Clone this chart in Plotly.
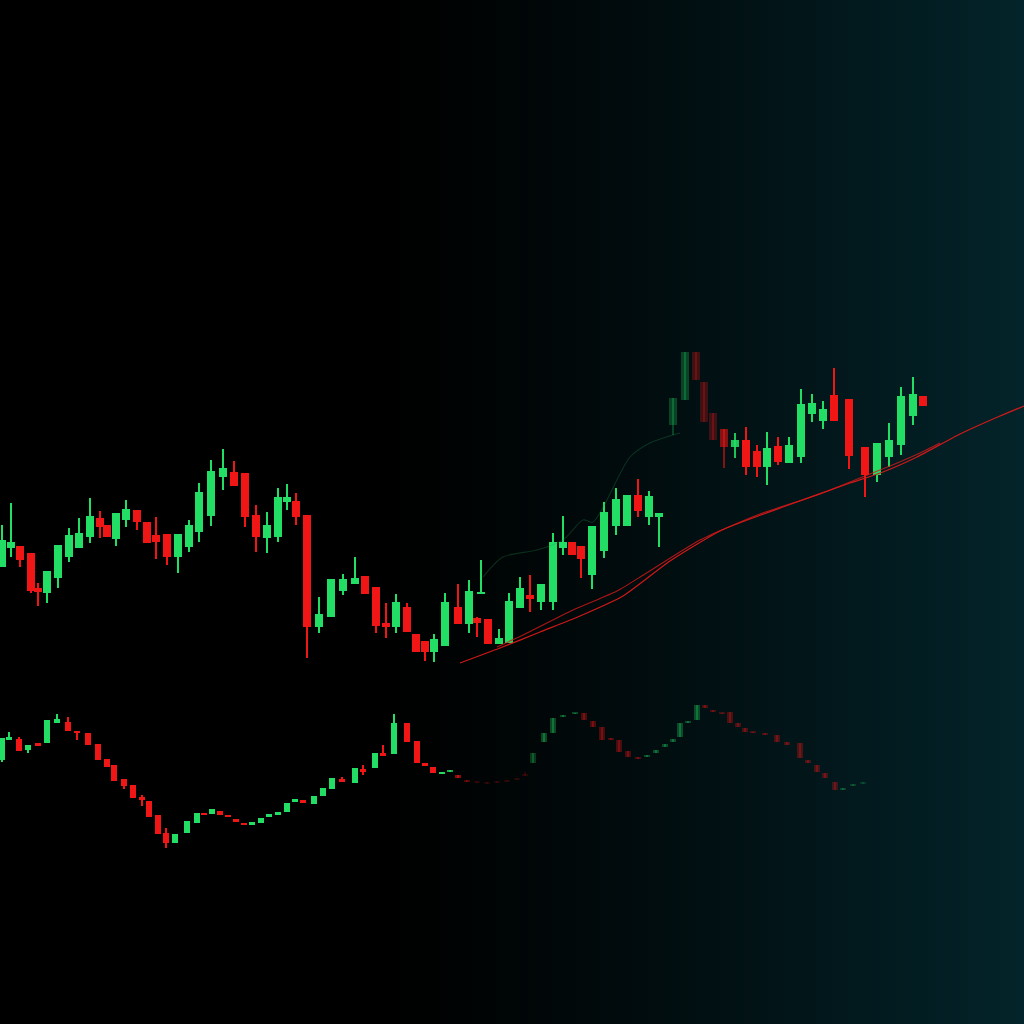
import numpy as np
import plotly.graph_objects as go

# ---------------- data ----------------
# upper price series: position, open, high, low, close
up_x = [2, 11, 20, 31, 38, 47, 58, 69, 79, 90, 100, 107, 116, 126, 137, 147, 156, 167, 178, 189,
        199, 211, 223, 234, 245, 256, 267, 278, 287, 296, 307, 319, 331, 343, 355, 365, 376, 386, 396, 407,
        416, 425, 434, 445, 458, 469, 477, 481, 488, 499, 509, 520, 530, 541, 553, 563, 572, 581, 592, 604,
        616, 627, 638, 649, 659, 673, 685, 696, 704, 713, 724, 735, 746, 757, 767, 778, 789, 801, 812, 823,
        834, 849, 865, 877, 889, 901, 913, 923]
up_open = [457, 476, 478, 471, 436, 431, 446, 467, 476, 487, 506, 499, 485, 504, 514, 502, 489, 490, 467, 477,
           492, 508, 547, 552, 551, 509, 486, 487, 522, 523, 509, 397, 407, 433, 440, 448, 437, 401, 397, 417,
           390, 383, 372, 378, 417, 400, 406, 430, 405, 380, 381, 416, 429, 422, 422, 476, 482, 478, 449, 473,
           498, 498, 529, 507, 507, 599, 624, 672, 642, 611, 595, 577, 584, 573, 557, 578, 561, 567, 610, 603,
           629, 625, 577, 549, 567, 579, 608, 628]
up_high = [499, 521, 478, 471, 441, 453, 479, 496, 506, 526, 513, 499, 511, 524, 514, 502, 507, 490, 490, 504,
           541, 564, 575, 563, 551, 519, 512, 536, 540, 531, 509, 427, 445, 450, 467, 448, 437, 421, 430, 421,
           390, 383, 390, 431, 440, 444, 407, 464, 405, 395, 431, 447, 449, 440, 491, 508, 482, 478, 498, 522,
           536, 529, 545, 533, 511, 626, 672, 672, 642, 611, 595, 591, 597, 579, 592, 587, 587, 635, 630, 623,
           656, 625, 577, 581, 601, 637, 647, 628]
up_low = [457, 467, 457, 431, 418, 421, 436, 462, 476, 481, 486, 487, 478, 497, 494, 481, 465, 459, 451, 472,
          482, 498, 534, 538, 497, 472, 471, 482, 514, 499, 366, 391, 407, 429, 440, 430, 391, 386, 391, 392,
          372, 363, 362, 378, 400, 391, 387, 430, 380, 380, 381, 416, 412, 414, 414, 469, 469, 446, 435, 466,
          489, 498, 507, 499, 477, 589, 624, 644, 602, 584, 556, 566, 549, 547, 539, 559, 561, 561, 602, 595,
          603, 555, 527, 542, 557, 569, 599, 618]
up_close = [484, 482, 464, 433, 432, 453, 479, 489, 491, 508, 497, 487, 511, 515, 502, 481, 482, 467, 490, 499,
            532, 553, 556, 538, 507, 487, 499, 527, 527, 507, 397, 410, 445, 445, 446, 430, 398, 397, 422, 392,
            372, 372, 385, 422, 400, 433, 401, 432, 380, 386, 423, 436, 425, 440, 482, 482, 469, 465, 498, 512,
            525, 529, 513, 528, 511, 626, 672, 644, 602, 584, 577, 584, 557, 557, 576, 562, 579, 620, 621, 615,
            603, 568, 549, 581, 584, 628, 630, 618]

# lower price series: position, open, high, low, close
lo_x = [2, 9, 19, 28, 38, 47, 57, 68, 77, 88, 98, 107, 114, 124, 133, 142, 149, 158, 166, 175,
        187, 197, 204, 212, 220, 228, 236, 244, 252, 261, 269, 278, 287, 295, 303, 314, 323, 332, 342, 355,
        363, 375, 383, 394, 407, 417, 425, 433, 442, 450, 458, 467, 477, 487, 497, 507, 517, 525, 533, 544,
        553, 563, 575, 584, 593, 602, 611, 619, 628, 638, 647, 656, 665, 673, 680, 688, 697, 705, 713, 722,
        730, 738, 745, 753, 765, 777, 787, 800, 808, 817, 825, 835, 843, 853, 863]
lo_open = [264, 284, 285, 274, 281, 281, 301, 302, 293, 291, 280, 265, 259, 245, 239, 227, 223, 209, 191, 181,
           191, 201, 211, 210, 213, 209, 205, 201, 199, 201, 207, 209, 212, 222, 224, 220, 228, 235, 245, 241,
           255, 256, 271, 270, 301, 283, 261, 257, 250, 252, 249, 244, 243, 241, 242, 243, 245, 250, 261, 282,
           291, 307, 310, 311, 303, 297, 286, 284, 273, 267, 267, 271, 277, 282, 287, 301, 304, 319, 314, 311,
           312, 301, 296, 292, 291, 289, 282, 281, 264, 259, 251, 242, 234, 238, 240]
lo_high = [286, 292, 287, 279, 281, 304, 310, 307, 293, 291, 280, 265, 259, 245, 239, 229, 223, 209, 196, 190,
           203, 211, 211, 215, 213, 209, 205, 201, 202, 206, 210, 212, 221, 225, 224, 228, 236, 246, 247, 256,
           259, 271, 279, 310, 301, 283, 261, 257, 252, 254, 249, 244, 243, 242, 243, 244, 246, 252, 271, 291,
           306, 309, 311, 311, 303, 297, 286, 284, 273, 267, 269, 274, 280, 285, 301, 303, 319, 319, 314, 311,
           312, 301, 296, 292, 291, 289, 282, 281, 264, 259, 251, 242, 236, 240, 242]
lo_low = [262, 284, 273, 271, 278, 281, 301, 293, 284, 279, 264, 257, 243, 235, 226, 218, 207, 190, 176, 181,
          191, 201, 209, 210, 209, 207, 202, 199, 199, 201, 207, 209, 212, 222, 221, 220, 228, 235, 242, 241,
          249, 256, 268, 270, 282, 261, 258, 251, 250, 252, 246, 242, 241, 240, 241, 242, 244, 248, 261, 282,
          291, 307, 310, 304, 297, 284, 284, 272, 267, 265, 267, 271, 277, 282, 287, 301, 304, 316, 312, 310,
          301, 297, 292, 291, 289, 282, 279, 266, 261, 252, 246, 234, 234, 238, 240]
lo_close = [286, 287, 273, 279, 278, 304, 305, 293, 291, 279, 264, 257, 243, 238, 226, 224, 207, 190, 181, 190,
            203, 211, 209, 215, 209, 207, 202, 199, 202, 206, 210, 212, 221, 225, 221, 228, 236, 246, 242, 256,
            252, 271, 268, 301, 282, 261, 258, 251, 252, 254, 246, 242, 241, 240, 241, 242, 244, 248, 271, 291,
            306, 309, 311, 304, 297, 284, 284, 272, 267, 265, 269, 274, 280, 285, 301, 303, 319, 316, 312, 310,
            301, 297, 292, 291, 289, 282, 279, 266, 261, 252, 246, 234, 236, 240, 242]

# moving averages (two close red lines) and a faint green trace line
ma1_x = [460, 500, 540, 580, 623, 670, 722, 783, 850, 883, 917, 960, 1000, 1024]
ma1_y = [361, 376, 392, 408, 428, 463, 494, 517, 541, 552, 567, 590, 608, 618]
ma2_x = [497, 523, 573, 617, 645, 700, 760, 820, 860, 890, 920, 940]
ma2_y = [377, 389, 414, 433, 450, 484, 510, 530, 546, 558, 571, 581]
trail_x = [483, 503, 537, 563, 583, 593, 630, 650, 680]
trail_y = [447, 467, 474, 484, 504, 502, 567, 581, 591]

# ---------------- styling ----------------
GREEN = (35, 222, 100)
RED = (240, 22, 22)


def alpha_upper(x):
    return np.interp(x, [660, 668, 716, 728, 740], [1.0, 0.26, 0.26, 0.7, 1.0])


def alpha_lower(x):
    return np.interp(x, [440, 462, 472, 522, 540, 830, 870], [1.0, 0.45, 0.12, 0.12, 0.3, 0.28, 0.12])


def candle_traces(xs, o, h, l, c, alpha_fn, body_w, wick_w):
    xs = np.array(xs, float)
    o, h, l, c = (np.array(v, float) for v in (o, h, l, c))
    a = alpha_fn(xs)
    cols = []
    for oi, ci, ai in zip(o, c, a):
        r, g, b = GREEN if ci >= oi else RED
        cols.append(f"rgba({r},{g},{b},{ai:.3f})")
    lo_b = np.minimum(o, c)
    hi_b = np.maximum(o, c)
    body_h = np.maximum(hi_b - lo_b, 1.6)
    wick_lo = np.minimum(l, lo_b)
    wick_h = np.maximum(np.maximum(h, hi_b) - wick_lo, 0.01)
    wick = go.Bar(x=xs, y=wick_h, base=wick_lo, width=wick_w, marker=dict(color=cols, line=dict(width=0)),
                  hoverinfo="skip")
    body = go.Bar(x=xs, y=body_h, base=lo_b, width=body_w, marker=dict(color=cols, line=dict(width=0)),
                  hoverinfo="skip")
    return [wick, body]


fig = go.Figure()

# faint trailing line
fig.add_trace(go.Scatter(x=trail_x, y=trail_y, mode="lines",
                         line=dict(color="rgba(40,150,80,0.28)", width=1.1, shape="spline", smoothing=0.8),
                         hoverinfo="skip"))
for t in candle_traces(lo_x, lo_open, lo_high, lo_low, lo_close, alpha_lower, 6.8, 1.4):
    fig.add_trace(t)
for t in candle_traces(up_x, up_open, up_high, up_low, up_close, alpha_upper, 8.8, 1.6):
    fig.add_trace(t)

fig.add_trace(go.Scatter(x=ma1_x, y=ma1_y, mode="lines",
                         line=dict(color="rgba(215,25,25,0.95)", width=1.3, shape="spline", smoothing=0.6),
                         hoverinfo="skip"))
fig.add_trace(go.Scatter(x=ma2_x, y=ma2_y, mode="lines",
                         line=dict(color="rgba(215,25,25,0.8)", width=1.1, shape="spline", smoothing=0.6),
                         hoverinfo="skip"))

# background horizontal gradient (black -> dark teal)
shapes = []
n = 128
for i in range(n):
    x0 = i / n
    x1 = (i + 1) / n
    px = (x0 + x1) / 2 * 1024
    t = min(max((px - 380) / (1024 - 380), 0), 1) ** 1.2
    col = f"rgb({round(3 * t)},{round(36 * t)},{round(42 * t)})"
    shapes.append(dict(type="rect", xref="paper", yref="paper", x0=x0, x1=x1 + 0.002, y0=0, y1=1,
                       fillcolor=col, line=dict(width=0), layer="below"))

fig.update_layout(
    width=1024, height=1024,
    margin=dict(l=0, r=0, t=0, b=0),
    paper_bgcolor="#000000",
    plot_bgcolor="rgba(0,0,0,0)",
    barmode="overlay",
    bargap=0,
    showlegend=False,
    shapes=shapes,
    xaxis=dict(range=[0, 1024], visible=False, showgrid=False, zeroline=False, fixedrange=True),
    yaxis=dict(range=[0, 1024], visible=False, showgrid=False, zeroline=False, fixedrange=True),
)

fig.write_html("out.html", config={"displayModeBar": False},
               post_script="document.body.style.margin='0';document.body.style.background='#000';")
